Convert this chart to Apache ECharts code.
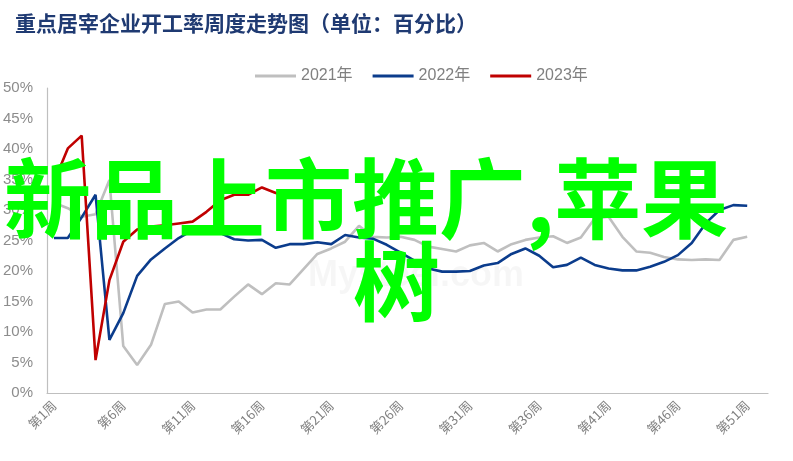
<!DOCTYPE html>
<html>
<head>
<meta charset="utf-8">
<script src="https://cdn.jsdelivr.net/npm/echarts@6/dist/echarts.min.js"></script>
<style>
html,body{margin:0;padding:0;background:#fff;}
#chart{width:793px;height:461px;}
</style>
</head>
<body>
<div id="chart"></div>
<script>
var weeks = [];
for (var i = 1; i <= 52; i++) { weeks.push('第' + i + '周'); }

var seriesNames = ['2021年', '2022年', '2023年'];

var data2021 = [31.2, 30.3, 28.9, 29.3, 34.9, 7.7, 4.6, 7.9, 14.6, 15.0,
  13.2, 13.7, 13.7, 15.8, 17.8, 16.2, 18.0, 17.8, 20.3, 22.8,
  23.7, 24.8, 27.4, 25.6, 25.5, 25.6, 25.1, 24.0, 23.6, 23.2,
  24.2, 24.6, 23.2, 24.4, 25.1, 25.5, 25.7, 24.6, 25.5, 28.6,
  28.9, 25.6, 23.2, 23.0, 22.3, 21.9, 21.8, 21.9, 21.8, 25.1,
  25.6];

var data2022 = [25.4, 25.4, 28.8, 32.5, 8.7, 13.1, 19.2, 21.9, 23.7, 25.4,
  26.7, 27.2, 26.2, 25.2, 25.0, 25.1, 23.8, 24.4, 24.4, 24.7,
  24.4, 25.9, 25.5, 25.3, 24.3, 23.0, 21.7, 20.4, 19.9, 19.9,
  20.0, 20.9, 21.3, 22.8, 23.7, 22.5, 20.6, 21.0, 22.2, 21.0,
  20.4, 20.1, 20.1, 20.7, 21.5, 22.6, 24.6, 27.8, 30.0, 30.8,
  30.7];

var data2023 = [34.6, 40.1, 42.2, 5.4, 18.5, 24.8, 26.8, 27.3, 27.5, 27.8,
  28.1, 29.7, 31.6, 32.5, 32.5, 33.7, 32.8, 32.3, 32.2];

var yTicks = [0, 5, 10, 15, 20, 25, 30, 35, 40, 45, 50];

var titleText = '重点居宰企业开工率周度走势图（单位：百分比）';
var overlayLine1 = '新品上市推广,苹果';
var overlayLine2 = '树';
var watermarkText = 'Mysteel.com';

var colors = ['#BFBFBF', '#0B3C8C', '#C00000'];

var chart = echarts.init(document.getElementById('chart'), null, {renderer: 'canvas'});

function mk(name, data, color) {
  return {
    name: name,
    type: 'line',
    data: data,
    symbol: 'none',
    smooth: false,
    lineStyle: {width: 2.6, color: color},
    itemStyle: {color: color},
    z: 3
  };
}

chart.setOption({
  animation: false,
  backgroundColor: '#fff',
  title: {
    text: titleText,
    left: 10,
    top: 8,
    textStyle: {
      fontFamily: 'Noto Sans CJK SC',
      fontSize: 21,
      fontWeight: 'bold',
      color: '#1F3A72'
    }
  },
  legend: {
    left: 250,
    top: 63,
    icon: 'rect',
    itemWidth: 41,
    itemHeight: 3,
    itemGap: 20,
    textStyle: {fontSize: 16, color: '#808080', fontFamily: 'Liberation Sans, Noto Sans CJK SC'},
    data: seriesNames
  },
  grid: {left: 45, right: 25, top: 88, bottom: 68},
  xAxis: {
    type: 'category',
    data: weeks,
    boundaryGap: true,
    axisLine: {lineStyle: {color: '#BFBFBF', width: 1.2}},
    axisTick: {show: false},
    axisLabel: {
      interval: 4,
      rotate: 45,
      fontSize: 13,
      color: '#808080',
      margin: 10,
      fontFamily: 'Noto Sans CJK SC'
    },
    splitLine: {show: false}
  },
  yAxis: {
    type: 'value',
    min: yTicks[0],
    max: yTicks[yTicks.length - 1],
    interval: 5,
    axisLine: {show: true, lineStyle: {color: '#BFBFBF', width: 1.2}},
    axisTick: {show: false},
    splitLine: {show: false},
    axisLabel: {
      formatter: '{value}%',
      fontSize: 15,
      color: '#8C8C8C',
      margin: 14,
      fontFamily: 'Liberation Sans'
    }
  },
  graphic: [
    {
      type: 'text',
      left: 308,
      top: 258,
      z: 1,
      style: {
        text: watermarkText,
        fontSize: 36,
        fontFamily: 'Liberation Sans',
        fontWeight: 'bold',
        fill: 'rgba(0,0,0,0.035)'
      }
    },
    {
      type: 'text',
      left: 4,
      top: 155,
      z: 100,
      style: {
        text: overlayLine1,
        fontSize: 87,
        fontFamily: 'Noto Sans CJK SC',
        fontWeight: 'bold',
        fill: '#00FF00'
      }
    },
    {
      type: 'text',
      left: 353,
      top: 238,
      z: 100,
      style: {
        text: overlayLine2,
        fontSize: 87,
        fontFamily: 'Noto Sans CJK SC',
        fontWeight: 'bold',
        fill: '#00FF00'
      }
    }
  ],
  series: [
    mk(seriesNames[0], data2021, colors[0]),
    mk(seriesNames[1], data2022, colors[1]),
    mk(seriesNames[2], data2023, colors[2])
  ]
});
</script>
</body>
</html>
